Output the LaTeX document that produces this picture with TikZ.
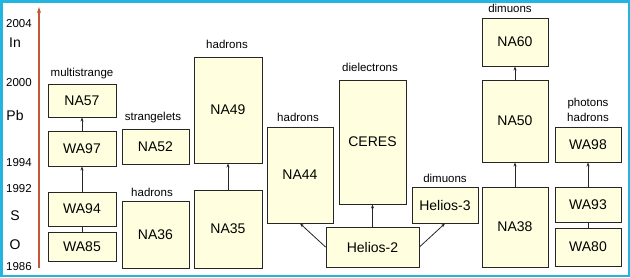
\documentclass[tikz,border=0pt]{standalone}
\usepackage{fontspec}
\setmainfont{Liberation Sans}
\usetikzlibrary{arrows.meta}
\definecolor{boxfill}{HTML}{FFFFE0}
\definecolor{framec}{HTML}{22B5E0}
\definecolor{timeline}{HTML}{C0583A}
\begin{document}
\begin{tikzpicture}[x=1pt,y=-1pt,
  exp/.style={draw=black!85, fill=boxfill, line width=0.9pt, inner sep=0pt,
    font=\fontsize{14}{16}\selectfont},
  lab/.style={font=\fontsize{11.5}{13}\selectfont, inner sep=0pt},
  yr/.style={font=\fontsize{11.5}{13}\selectfont, inner sep=0pt},
  ion/.style={font=\fontsize{14}{16}\selectfont, inner sep=0pt},
  conn/.style={draw=black!85, line width=0.8pt, -{Stealth[length=4pt,width=3pt]}},
  plain/.style={draw=black!85, line width=0.8pt}]
\useasboundingbox (0,0) rectangle (630,277);
\fill[white] (0,0) rectangle (630,277);
\draw[framec, line width=2.5pt] (1.25,1.25) rectangle (628.75,275.75);

% timeline
\coordinate (t0) at (39,268);
\coordinate (t1) at (39,7);
\draw[timeline, line width=1.4pt, -{Stealth[length=6pt,width=4pt]}] (t0) -- (t1);
\node[yr] (y2004) at (19,24) {2004};
\node[ion] (In) at (15,43) {In};
\node[yr] (y2000) at (19,83) {2000};
\node[ion] (Pb) at (15,115) {Pb};
\node[yr] (y1994) at (19,163) {1994};
\node[yr] (y1992) at (19,189) {1992};
\node[ion] (S) at (15,216) {S};
\node[ion] (O) at (15,245) {O};
\node[yr] (y1986) at (19,267) {1986};

% boxes
\node[exp, minimum width=68pt, minimum height=33pt] (NA57) at (82,100.5) {NA57};
\node[exp, minimum width=68pt, minimum height=35pt] (WA97) at (82,148.5) {WA97};
\node[exp, minimum width=68pt, minimum height=34pt] (WA94) at (82,209) {WA94};
\node[exp, minimum width=68pt, minimum height=29pt] (WA85) at (82,246.5) {WA85};
\node[exp, minimum width=67pt, minimum height=35pt] (NA52) at (155.5,146.5) {NA52};
\node[exp, minimum width=67pt, minimum height=67pt] (NA36) at (155.5,234.5) {NA36};
\node[exp, minimum width=68pt, minimum height=106pt] (NA49) at (228,110) {NA49};
\node[exp, minimum width=68pt, minimum height=78pt] (NA35) at (228,229) {NA35};
\node[exp, minimum width=66pt, minimum height=96pt] (NA44) at (300,175) {NA44};
\node[exp, minimum width=67pt, minimum height=124pt] (CERES) at (372.5,142) {CERES};
\node[exp, minimum width=93pt, minimum height=40pt] (H2) at (372.5,247) {Helios-2};
\node[exp, minimum width=66pt, minimum height=36pt] (H3) at (445,205) {Helios-3};
\node[exp, minimum width=66pt, minimum height=48pt] (NA60) at (515,42) {NA60};
\node[exp, minimum width=66pt, minimum height=82pt] (NA50) at (515,121) {NA50};
\node[exp, minimum width=66pt, minimum height=80pt] (NA38) at (515,227) {NA38};
\node[exp, minimum width=66pt, minimum height=35pt] (WA98) at (588,144.5) {WA98};
\node[exp, minimum width=66pt, minimum height=35pt] (WA93) at (588,204.5) {WA93};
\node[exp, minimum width=66pt, minimum height=38pt] (WA80) at (588,247) {WA80};

% labels
\node[lab] (l1) at (82,74) {multistrange};
\node[lab] (l2) at (153,118) {strangelets};
\node[lab] (l3) at (152,192) {hadrons};
\node[lab] (l4) at (227,44) {hadrons};
\node[lab] (l5) at (298,117) {hadrons};
\node[lab] (l6) at (370,67) {dielectrons};
\node[lab] (l7) at (445,178) {dimuons};
\node[lab] (l8) at (510,8) {dimuons};
\node[lab] (l9) at (588,104) {photons};
\node[lab] (l10) at (588,117) {hadrons};

% connectors
\draw[plain] (WA85) -- (WA94);
\draw[conn] (WA94) -- (WA97);
\draw[conn] (WA97) -- (NA57);
\draw[conn] (NA35) -- (NA49);
\draw[conn] (H2.west) -- (NA44.south);
\draw[conn] (H2) -- (CERES);
\draw[conn] (H2.east) -- (H3.south);
\draw[conn] (NA38) -- (NA50);
\draw[conn] (NA50) -- (NA60);
\draw[plain] (WA80) -- (WA93);
\draw[conn] (WA93) -- (WA98);
\end{tikzpicture}
\end{document}
